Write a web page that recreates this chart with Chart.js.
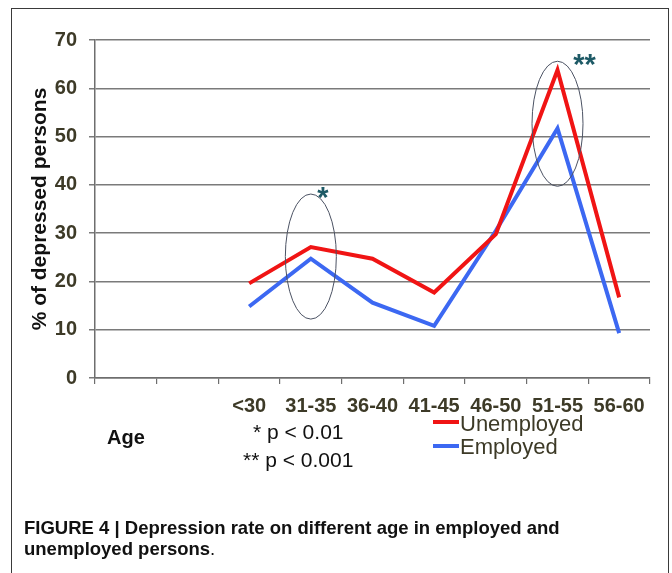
<!DOCTYPE html>
<html>
<head>
<meta charset="utf-8">
<script src="https://cdn.jsdelivr.net/npm/chart.js@4.4.1/dist/chart.umd.min.js"></script>
<style>
  html, body { margin: 0; padding: 0; background: #fff; }
  #wrap { position: relative; width: 672px; height: 573px; overflow: hidden; }
  #frame { position: absolute; left: 11px; top: 8px; width: 658px; height: 600px; border: 1px solid #3a3a3a; box-sizing: border-box; }
  canvas { position: absolute; left: 0; top: 0; }
  .cap { position: absolute; left: 24px; font-family: "Liberation Sans", Arial, sans-serif; font-size: 18.5px; line-height: 18.5px; color: #111; white-space: nowrap; }
</style>
</head>
<body>
<div id="wrap">
  <div id="frame"></div>
  <canvas id="c" width="672" height="573"></canvas>
  <div class="cap" style="top:519px"><b>FIGURE 4 | Depression rate on different age in employed and</b></div>
  <div class="cap" style="top:540px"><b>unemployed persons</b>.</div>
</div>
<script>
// Age groups along the x axis (two empty slots precede them on the axis)
const leadingBlankSlots = 2;
const ageGroups = ['<30', '31-35', '36-40', '41-45', '46-50', '51-55', '56-60'];

// Percentage of depressed persons per age group
const unemployed = [19.6, 27.1, 24.7, 17.7, 29.8, 63.8, 16.7];
const employed   = [14.8, 24.7, 15.6, 10.8, 30.5, 51.7, 9.3];

// Y axis range and step
const yMin = 0, yMax = 70, yStep = 10;

// Significance annotations: group, span of the marking ellipse (in %), marker text
const sigGroups = ['31-35', '51-55'];
const sigLow    = [12.2, 39.7];
const sigHigh   = [38.1, 65.6];
const sigMarks  = ['*', '**'];
const sigNotes  = ['* p < 0.01', '** p < 0.001'];

const labels = Array(leadingBlankSlots).fill('').concat(ageGroups);
const pad = arr => Array(leadingBlankSlots).fill(null).concat(arr);

const FONT = '"Liberation Sans", Arial, sans-serif';
const OLIVE = '#3d3a27';
const RED = '#f01414';
const BLUE = '#3c68f2';

const annotations = {
  id: 'annotations',
  afterDatasetsDraw(chart) {
    const { ctx, scales: { x, y } } = chart;
    const markDx = [12, 27];
    ctx.save();
    sigGroups.forEach((g, i) => {
      const cx = x.getPixelForValue(labels.indexOf(g));
      const yTop = y.getPixelForValue(sigHigh[i]);
      const yBot = y.getPixelForValue(sigLow[i]);
      const cy = (yTop + yBot) / 2;
      const ry = (yBot - yTop) / 2;
      ctx.beginPath();
      ctx.ellipse(cx, cy, 25.5, ry, 0, 0, Math.PI * 2);
      ctx.strokeStyle = '#4b5263';
      ctx.lineWidth = 1;
      ctx.stroke();
      ctx.font = 'bold 29px ' + FONT;
      ctx.fillStyle = '#1e5a66';
      ctx.textAlign = 'center';
      ctx.textBaseline = 'alphabetic';
      ctx.fillText(sigMarks[i], cx + markDx[i], yTop + 13);
    });
    ctx.restore();
  },
  afterDraw(chart) {
    const { ctx } = chart;
    ctx.save();
    ctx.textBaseline = 'alphabetic';
    ctx.textAlign = 'left';
    // axis caption
    ctx.font = 'bold 20px ' + FONT;
    ctx.fillStyle = '#111';
    ctx.fillText('Age', 107, 444);
    // significance notes
    ctx.font = '21px ' + FONT;
    ctx.fillText(sigNotes[0], 253, 439);
    ctx.fillText(sigNotes[1], 243, 467);
    // legend
    const rows = [[422, 430.5], [446, 454]];
    chart.data.datasets.forEach((ds, i) => {
      ctx.strokeStyle = ds.borderColor;
      ctx.lineWidth = 4;
      ctx.beginPath();
      ctx.moveTo(433, rows[i][0]);
      ctx.lineTo(459, rows[i][0]);
      ctx.stroke();
      ctx.font = '22px ' + FONT;
      ctx.fillStyle = OLIVE;
      ctx.fillText(ds.label, 460, rows[i][1]);
    });
    ctx.restore();
  }
};

new Chart(document.getElementById('c'), {
  type: 'line',
  data: {
    labels: labels,
    datasets: [
      { label: 'Unemployed', data: pad(unemployed), borderColor: RED, backgroundColor: RED,
        borderWidth: 4, pointRadius: 0, tension: 0, spanGaps: false },
      { label: 'Employed', data: pad(employed), borderColor: BLUE, backgroundColor: BLUE,
        borderWidth: 4, pointRadius: 0, tension: 0, spanGaps: false }
    ]
  },
  options: {
    responsive: false,
    animation: false,
    layout: { padding: { left: 0, top: 40, right: 22, bottom: 0 } },
    plugins: { legend: { display: false }, tooltip: { enabled: false } },
    scales: {
      x: {
        offset: true,
        grid: { display: true, drawOnChartArea: false, drawTicks: true, tickLength: 6, offset: true,
                color: '#6e6e6e', lineWidth: 1.2 },
        border: { display: true, color: '#6e6e6e', width: 1.5 },
        ticks: { color: OLIVE, font: { family: FONT, size: 20, weight: 'bold' }, padding: 10,
                 maxRotation: 0, autoSkip: false },
        afterFit(s) { s.height = 195; }
      },
      y: {
        min: yMin, max: yMax,
        grid: { color: '#7a7a7a', lineWidth: 1.5, tickLength: 6, drawTicks: true },
        border: { display: true, color: '#6e6e6e', width: 1.5 },
        ticks: { stepSize: yStep, color: OLIVE, font: { family: FONT, size: 20, weight: 'bold' }, padding: 12 },
        title: { display: true, text: '% of depressed persons', color: '#111',
                 font: { family: FONT, size: 21, weight: 'bold' }, padding: { top: 28, bottom: 0 } },
        afterFit(s) { s.width = 95; }
      }
    }
  },
  plugins: [annotations]
});
</script>
</body>
</html>
